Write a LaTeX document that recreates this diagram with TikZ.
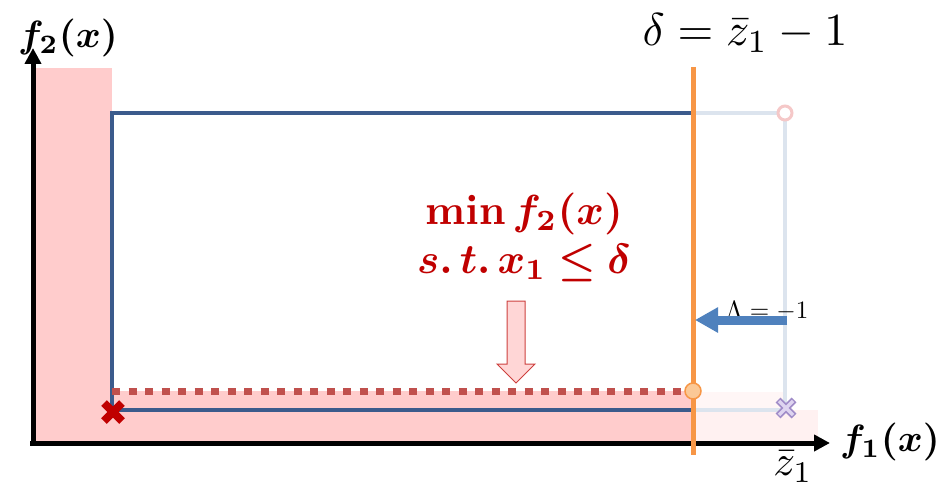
\documentclass[tikz,border=0pt]{standalone}
\usepackage{graphicx}
\usepackage{amsmath,bm}
\usetikzlibrary{arrows.meta}
\definecolor{pinkfill}{RGB}{255,204,204}
\definecolor{lightpink}{RGB}{255,241,241}
\definecolor{lightpinkb}{RGB}{255,246,246}
\definecolor{darkblue}{RGB}{59,91,140}
\definecolor{paleblue}{RGB}{220,228,238}
\definecolor{orangeline}{RGB}{247,150,70}
\definecolor{orangefill}{RGB}{251,200,150}
\definecolor{dotred}{RGB}{192,80,77}
\definecolor{xred}{RGB}{192,0,0}
\definecolor{arrowblue}{RGB}{79,129,189}
\definecolor{lavender}{RGB}{160,140,200}
\definecolor{lavenderfill}{RGB}{222,212,240}
\definecolor{circpink}{RGB}{245,200,200}
\tikzset{
  axisline/.style={line width=5pt,-{Triangle[length=16pt,width=16pt]}},
  frontline/.style={draw=darkblue,line width=4pt},
  paleline/.style={draw=paleblue,line width=4pt},
  lbl/.style={inner sep=0pt},
  redlbl/.style={inner sep=0pt,text=xred},
}
\begin{document}
\begin{tikzpicture}[x=1pt,y=-1pt]
\useasboundingbox (0,0) rectangle (940,495);
% shaded regions
\fill[pinkfill] (33,68) rectangle (112,443);
\fill[pinkfill] (112,391) rectangle (693,443);
\fill[lightpinkb] (693,392) rectangle (785,410);
\fill[lightpink] (693,410) rectangle (818,443);
% coordinates
\coordinate (ytop) at (33,48);
\coordinate (xend) at (830,443);
\coordinate (yorig) at (33,446);
\coordinate (xorig) at (30,443);
\coordinate (A) at (112,410);
\coordinate (B) at (112,113);
\coordinate (C) at (693,113);
\coordinate (D) at (785,113);
\coordinate (E) at (785,410);
\coordinate (F) at (693,410);
\coordinate (G) at (112,391);
\coordinate (H) at (693,391);
\coordinate (otop) at (693,67);
\coordinate (obot) at (693,455);
% pale continuation
\draw[paleline] (C) -- (D) -- (E) -- (F);
% front
\draw[frontline] (A) -- (B) -- (C);
\draw[frontline] (A) -- (F);
% dotted line
\draw[dotred,line width=7pt,dash pattern=on 8pt off 8.5pt] (G) -- (H);
% axes
\draw[axisline] (yorig) -- (ytop);
\draw[axisline] (xorig) -- (xend);
% orange line
\draw[orangeline,line width=5pt] (otop) -- (obot);
% circles
\node[circle,draw=circpink,fill=white,line width=3pt,minimum size=14pt,inner sep=0pt] (pc) at (D) {};
\node[circle,draw=orangeline,fill=orangefill,line width=1.5pt,minimum size=16pt,inner sep=0pt] (oc) at (H) {};
% red X
\coordinate (rx) at (113,412);
\draw[xred,line width=8pt] ([shift={(-9,-9)}]rx) -- ([shift={(9,9)}]rx);
\draw[xred,line width=8pt] ([shift={(-9,9)}]rx) -- ([shift={(9,-9)}]rx);
% purple x
\coordinate (px) at (786,408);
\draw[lavender,line width=7pt] ([shift={(-8,-8)}]px) -- ([shift={(8,8)}]px);
\draw[lavender,line width=7pt] ([shift={(-8,8)}]px) -- ([shift={(8,-8)}]px);
\draw[lavenderfill,line width=3.5pt] ([shift={(-7,-7)}]px) -- ([shift={(7,7)}]px);
\draw[lavenderfill,line width=3.5pt] ([shift={(-7,7)}]px) -- ([shift={(7,-7)}]px);
% labels
\node[lbl] (f2) at (68,38) {\scalebox{3.8}{$\bm{f_2(x)}$}};
\node[lbl] (f1) at (890,442) {\scalebox{3.8}{$\bm{f_1(x)}$}};
\node[lbl] (zb) at (793,467) {\scalebox{4.3}{$\bar{z}_1$}};
\node[lbl] (title) at (745,33) {\scalebox{4.6}{$\delta=\bar{z}_1-1$}};
\node[redlbl] (min) at (524,214) {\scalebox{4.2}{$\mathbf{min}\,\bm{f_2(x)}$}};
\node[redlbl] (st) at (524,263) {\scalebox{4.2}{$\bm{s.\,t.\,x_1\le\delta}$}};
\node[lbl] (lam) at (767,311) {\scalebox{2.5}{$\Lambda=-1$}};
% blue arrow
\coordinate (bs) at (787,320);
\coordinate (be) at (695,320);
\draw[arrowblue,line width=9pt,-{Triangle[length=23pt,width=24pt]}] (bs) -- (be);
% pink block arrow
\draw[dotred!80!red,fill=pinkfill!80!white,line width=1pt]
  (507,301) -- (525,301) -- (525,364) -- (535,364) -- (516,383) -- (497,364) -- (507,364) -- cycle;
\end{tikzpicture}
\end{document}
